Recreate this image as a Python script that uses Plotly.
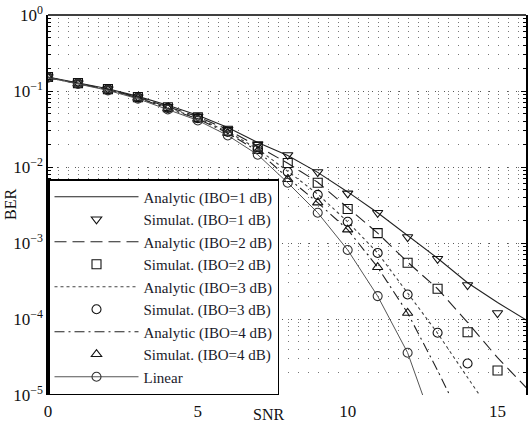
import plotly.graph_objects as go

# ---------------- data ----------------
snr_line = [0, 1, 2, 3, 4, 5, 6, 7, 8, 9, 10, 11, 12, 13, 14, 15, 16]
snr_sim = [0, 1, 2, 3, 4, 5, 6, 7, 8, 9, 10, 11, 12, 13, 14, 15]

ana_ibo1 = [0.153, 0.128, 0.107, 0.085, 0.065, 0.048, 0.033, 0.021, 0.0142, 0.0085,
            0.0047, 0.0025, 0.00125, 6.3e-4, 3.0e-4, 1.65e-4, 9.5e-5]
sim_ibo1 = [0.153, 0.127, 0.106, 0.083, 0.062, 0.046, 0.031, 0.020, 0.0144, 0.0086,
            0.0045, 0.0025, 0.0012, 6.2e-4, 2.8e-4, 1.2e-4]

ana_ibo2 = [0.151, 0.126, 0.105, 0.083, 0.062, 0.046, 0.031, 0.0188, 0.0112, 0.0063,
            0.0029, 0.00135, 5.6e-4, 2.5e-4, 9.0e-5, 3.1e-5, 1.2e-5]
sim_ibo2 = [0.153, 0.127, 0.106, 0.083, 0.061, 0.045, 0.030, 0.0183, 0.0113, 0.0062,
            0.0028, 0.00135, 5.5e-4, 2.5e-4, 6.7e-5, 2.1e-5]

ana_ibo3 = [0.151, 0.125, 0.104, 0.082, 0.060, 0.044, 0.029, 0.0172, 0.0088, 0.0044,
            0.0019, 7.4e-4, 2.2e-4, 6.5e-5, 1.7e-5, 4.5e-6]
sim_ibo3 = [0.152, 0.126, 0.105, 0.082, 0.060, 0.044, 0.029, 0.0172, 0.0086, 0.0043,
            0.0019, 7.4e-4, 2.1e-4, 6.6e-5, 2.6e-5]

ana_ibo4 = [0.150, 0.125, 0.104, 0.081, 0.059, 0.043, 0.028, 0.0162, 0.0072, 0.0034,
            0.0015, 4.8e-4, 1.2e-4, 2.1e-5, 3.3e-6]
sim_ibo4 = [0.151, 0.125, 0.104, 0.081, 0.059, 0.043, 0.028, 0.0162, 0.0069, 0.0034,
            0.0015, 4.8e-4, 1.2e-4]

linear = [0.150, 0.124, 0.102, 0.079, 0.057, 0.041, 0.026, 0.0145, 0.0062, 0.0025,
          8.1e-4, 2.0e-4, 3.6e-5, 2.8e-6]

x_ticks = [0, 5, 10, 15]
y_tickvals = [1, 0.1, 0.01, 0.001, 0.0001, 0.00001]
y_ticktext = ["10<sup>0</sup>", "10<sup>\u22121</sup>", "10<sup>\u22122</sup>",
              "10<sup>\u22123</sup>", "10<sup>\u22124</sup>", "10<sup>\u22125</sup>"]

names = ["Analytic (IBO=1 dB)", "Simulat. (IBO=1 dB)",
         "Analytic (IBO=2 dB)", "Simulat. (IBO=2 dB)",
         "Analytic (IBO=3 dB)", "Simulat. (IBO=3 dB)",
         "Analytic (IBO=4 dB)", "Simulat. (IBO=4 dB)",
         "Linear"]

# ---------------- figure ----------------
fig = go.Figure()

def ana(y, name, dash, color="#222222", width=1.1, grp=""):
    fig.add_trace(go.Scatter(x=snr_line[:len(y)], y=y, mode="lines", name=name,
                             legendgroup=grp,
                             line=dict(color=color, width=width, dash=dash)))

def sim(y, name, symbol, grp=""):
    fig.add_trace(go.Scatter(x=snr_sim[:len(y)], y=y, mode="markers", name=name,
                             legendgroup=grp,
                             marker=dict(symbol=symbol, size=9, color="#111111",
                                         line=dict(width=1.1))))

ana(ana_ibo1, names[0], "solid", grp="g1")
sim(sim_ibo1, names[1], "triangle-down-open", grp="g2")
ana(ana_ibo2, names[2], "12px,6px", grp="g3")
sim(sim_ibo2, names[3], "square-open", grp="g4")
ana(ana_ibo3, names[4], "3px,3px", color="#444444", grp="g5")
sim(sim_ibo3, names[5], "circle-open", grp="g6")
ana(ana_ibo4, names[6], "10px,4px,2px,4px", grp="g7")
sim(sim_ibo4, names[7], "triangle-up-open", grp="g8")
fig.add_trace(go.Scatter(x=snr_line[:len(linear)], y=linear, mode="lines+markers",
                         name=names[8], legendgroup="g9",
                         line=dict(color="#555555", width=1.0),
                         marker=dict(symbol="circle-open", size=9, color="#333333",
                                     line=dict(width=1.1))))

fig.update_layout(
    width=532, height=425,
    margin=dict(l=48, r=6, t=15, b=30),
    paper_bgcolor="white", plot_bgcolor="white",
    font=dict(family="Liberation Serif", size=15, color="#111111"),
    showlegend=True,
    legend=dict(x=0, y=0, xanchor="left", yanchor="bottom",
                bgcolor="white", bordercolor="black", borderwidth=1.5,
                font=dict(family="Liberation Serif", size=15, color="#1a1a2a"),
                itemwidth=84, tracegroupgap=9.8, traceorder="normal"),
    xaxis=dict(range=[0, 15.95], tickvals=x_ticks, ticks="", showline=False,
               showgrid=False, zeroline=False, ticklabelstandoff=4,
               tickfont=dict(size=17), automargin=False),
    yaxis=dict(type="log", range=[-5, 0], tickvals=y_tickvals, ticktext=y_ticktext,
               ticks="inside", ticklen=5, tickcolor="black", mirror="ticks",
               showline=True, linecolor="black", linewidth=1.5,
               showgrid=True, gridcolor="#555555", griddash="1px,8px", gridwidth=1,
               zeroline=False, automargin=False, tickfont=dict(size=17),
               minor=dict(ticks="inside", ticklen=3, tickcolor="black",
                          showgrid=True, gridcolor="#777777", griddash="1px,9px",
                          dtick="D1")),
    shapes=[dict(type="line", xref="paper", yref="paper", x0=0, x1=1, y0=1, y1=1,
                 line=dict(color="black", width=1.5))],
    annotations=[
        dict(text="SNR", xref="paper", yref="paper", x=(268 - 48) / 478, y=-30 / 380,
             xanchor="center", yanchor="bottom", showarrow=False,
             font=dict(family="Liberation Serif", size=16, color="#111111")),
        dict(text="BER", xref="paper", yref="paper", x=-38 / 478, y=0.5,
             xanchor="center", yanchor="middle", textangle=-90, showarrow=False,
             font=dict(family="Liberation Serif", size=16, color="#111111")),
    ],
)

fig.write_html("out.html")
